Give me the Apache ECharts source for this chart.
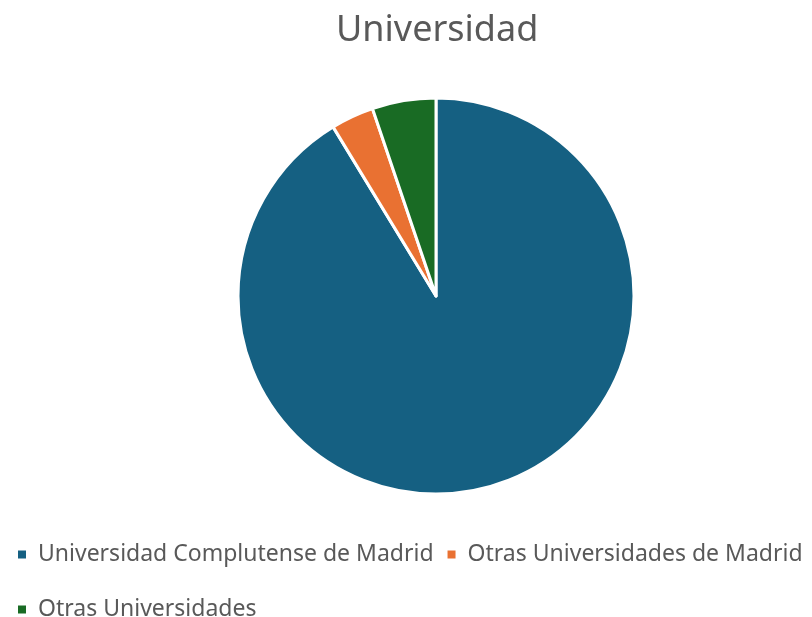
<!DOCTYPE html>
<html>
<head>
<meta charset="utf-8">
<script src="https://cdn.jsdelivr.net/npm/echarts@6/dist/echarts.min.js"></script>
<style>
html, body { margin: 0; padding: 0; background: #fff; }
#chart { width: 812px; height: 617px; }
</style>
</head>
<body>
<div id="chart"></div>
<script>
var categories = ['Universidad Complutense de Madrid', 'Otras Universidades de Madrid', 'Otras Universidades'];
var values = [91.3, 3.5, 5.2];
var colors = ['#156082', '#E97132', '#196B24'];

var chart = echarts.init(document.getElementById('chart'));
var pieData = [];
for (var i = 0; i < categories.length; i++) {
    pieData.push({ name: categories[i], value: values[i], itemStyle: { color: colors[i] } });
}

var option = {
    animation: false,
    title: {
        text: 'Universidad',
        left: 331,
        top: 8,
        textStyle: { fontFamily: 'Noto Sans', fontSize: 36, fontWeight: 'normal', color: '#595959' }
    },
    legend: {
        left: 16,
        top: 533,
        padding: 0,
        width: 800,
        icon: 'rect',
        itemWidth: 10,
        itemHeight: 10,
        itemGap: 12,
        textStyle: {
            fontFamily: 'Noto Sans',
            fontSize: 23,
            color: '#595959',
            lineHeight: 43,
            padding: [0, 0, 0, 6]
        },
        data: categories
    },
    series: [{
        type: 'pie',
        center: [436, 296],
        radius: 198,
        startAngle: 90,
        clockwise: true,
        label: { show: false },
        labelLine: { show: false },
        emphasis: { disabled: true },
        itemStyle: { borderColor: '#fff', borderWidth: 3 },
        data: pieData
    }]
};
chart.setOption(option);
</script>
</body>
</html>
